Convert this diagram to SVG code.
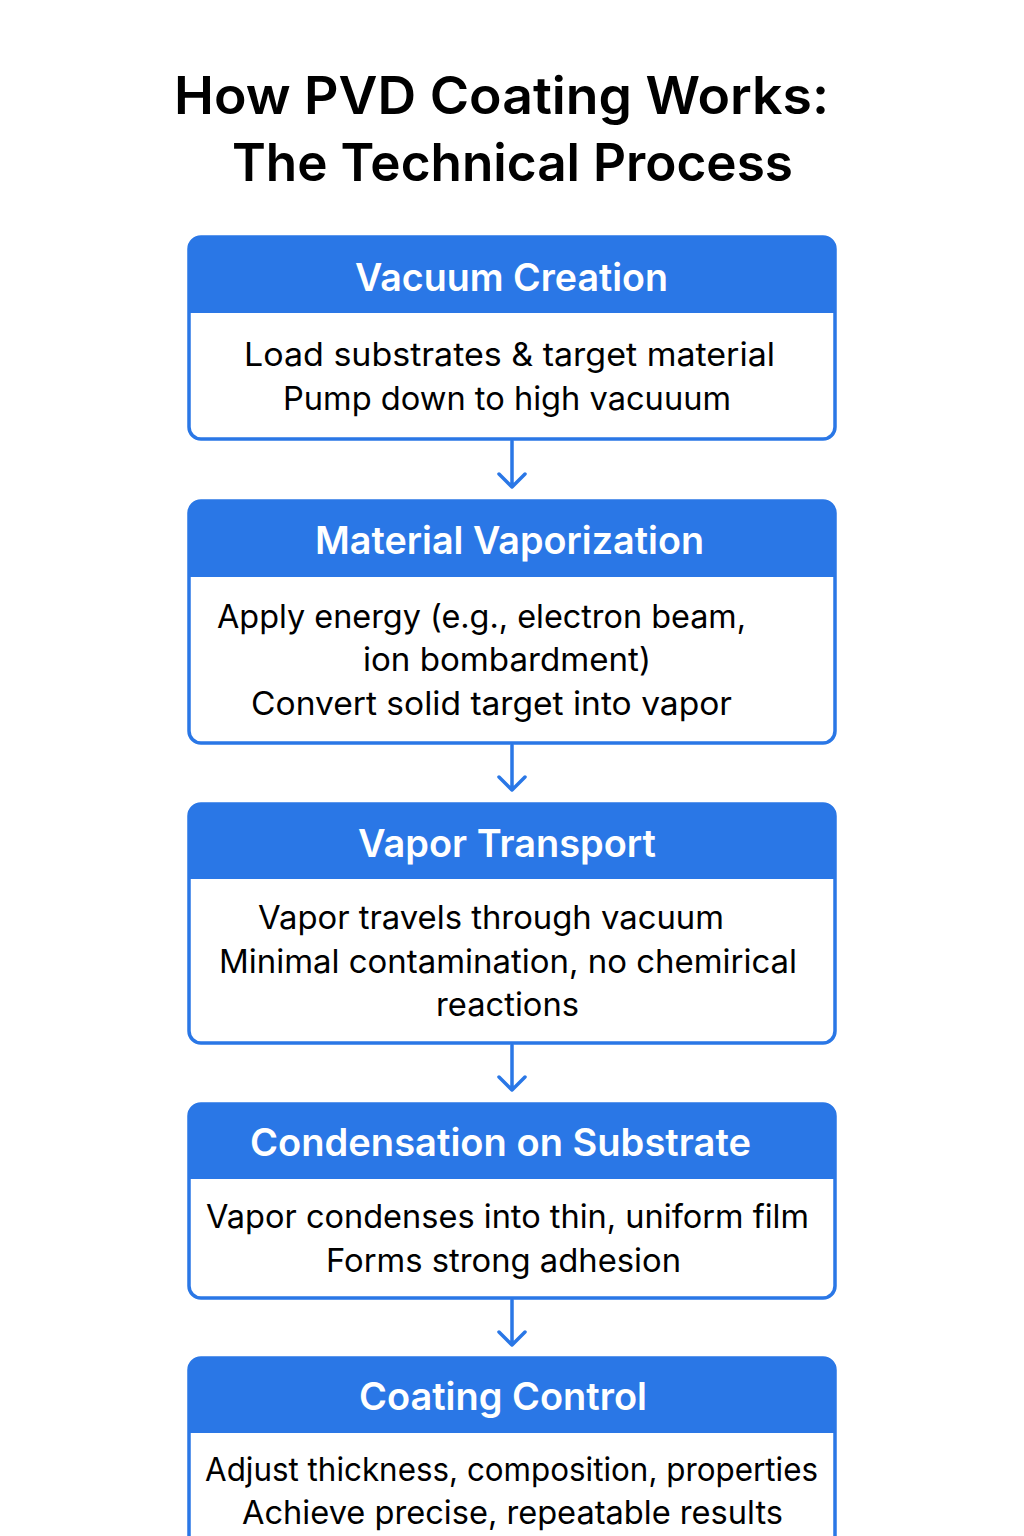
<svg xmlns="http://www.w3.org/2000/svg" width="1024" height="1536" viewBox="0 0 1024 1536">
<defs>
<style>
.box{fill:#ffffff;stroke:#2A77E6;stroke-width:3.5}
.hdr{fill:#2A77E6}
.ht{font-family:Inter,"Noto Sans",sans-serif;font-weight:600;font-size:38px;fill:#ffffff}
.bt{font-family:Inter,"Noto Sans",sans-serif;font-weight:400;font-size:32.5px;fill:#000000}
.tt{font-family:Inter,"Noto Sans",sans-serif;font-weight:600;font-size:52px;fill:#000000}
.con{fill:none;stroke:#2A77E6;stroke-width:3.5;stroke-linecap:round;stroke-linejoin:round}
</style>
</defs>
<rect width="1024" height="1536" fill="#ffffff"/>
<g id="title">
<text class="tt" x="174" y="114" textLength="655" lengthAdjust="spacingAndGlyphs">How PVD Coating Works:</text>
<text class="tt" x="232" y="181" textLength="561" lengthAdjust="spacingAndGlyphs">The Technical Process</text>
</g>
<g id="connectors">
<path class="con" d="M512,441 V487 M499,474 L512,487 L525,474"/>
<path class="con" d="M512,745 V790 M499,777 L512,790 L525,777"/>
<path class="con" d="M512,1045 V1090 M499,1077 L512,1090 L525,1077"/>
<path class="con" d="M512,1300 V1345 M499,1332 L512,1345 L525,1332"/>
</g>
<g id="vacuum-creation">
<rect class="box" x="189" y="237" width="646" height="202" rx="12"/>
<path class="hdr" d="M189,313 V249 Q189,237 201,237 H823 Q835,237 835,249 V313 Z"/>
<text class="ht" x="355" y="291" textLength="313" lengthAdjust="spacingAndGlyphs">Vacuum Creation</text>
<text class="bt" x="244" y="366" textLength="531" lengthAdjust="spacingAndGlyphs">Load substrates &amp; target material</text>
<text class="bt" x="283" y="410" textLength="448" lengthAdjust="spacingAndGlyphs">Pump down to high vacuuum</text>
</g>
<g id="material-vaporization">
<rect class="box" x="189" y="501" width="646" height="242" rx="12"/>
<path class="hdr" d="M189,577 V513 Q189,501 201,501 H823 Q835,501 835,513 V577 Z"/>
<text class="ht" x="315" y="554" textLength="389" lengthAdjust="spacingAndGlyphs">Material Vaporization</text>
<text class="bt" x="217" y="628" textLength="529" lengthAdjust="spacingAndGlyphs">Apply energy (e.g., electron beam,</text>
<text class="bt" x="363" y="671" textLength="288" lengthAdjust="spacingAndGlyphs">ion bombardment)</text>
<text class="bt" x="251" y="715" textLength="481" lengthAdjust="spacingAndGlyphs">Convert solid target into vapor</text>
</g>
<g id="vapor-transport">
<rect class="box" x="189" y="804" width="646" height="239" rx="12"/>
<path class="hdr" d="M189,879 V816 Q189,804 201,804 H823 Q835,804 835,816 V879 Z"/>
<text class="ht" x="358" y="857" textLength="298" lengthAdjust="spacingAndGlyphs">Vapor Transport</text>
<text class="bt" x="258" y="929" textLength="466" lengthAdjust="spacingAndGlyphs">Vapor travels through vacuum</text>
<text class="bt" x="219" y="973" textLength="578" lengthAdjust="spacingAndGlyphs">Minimal contamination, no chemirical</text>
<text class="bt" x="436" y="1016" textLength="143" lengthAdjust="spacingAndGlyphs">reactions</text>
</g>
<g id="condensation-on-substrate">
<rect class="box" x="189" y="1104" width="646" height="194" rx="12"/>
<path class="hdr" d="M189,1179 V1116 Q189,1104 201,1104 H823 Q835,1104 835,1116 V1179 Z"/>
<text class="ht" x="250" y="1156" textLength="501" lengthAdjust="spacingAndGlyphs">Condensation on Substrate</text>
<text class="bt" x="206" y="1228" textLength="603" lengthAdjust="spacingAndGlyphs">Vapor condenses into thin, uniform film</text>
<text class="bt" x="326" y="1272" textLength="355" lengthAdjust="spacingAndGlyphs">Forms strong adhesion</text>
</g>
<g id="coating-control">
<rect class="box" x="189" y="1358" width="646" height="220" rx="12"/>
<path class="hdr" d="M189,1433 V1370 Q189,1358 201,1358 H823 Q835,1358 835,1370 V1433 Z"/>
<text class="ht" x="359" y="1410" textLength="288" lengthAdjust="spacingAndGlyphs">Coating Control</text>
<text class="bt" x="205" y="1481" textLength="613" lengthAdjust="spacingAndGlyphs">Adjust thickness, composition, properties</text>
<text class="bt" x="242" y="1524" textLength="541" lengthAdjust="spacingAndGlyphs">Achieve precise, repeatable results</text>
</g>
</svg>
